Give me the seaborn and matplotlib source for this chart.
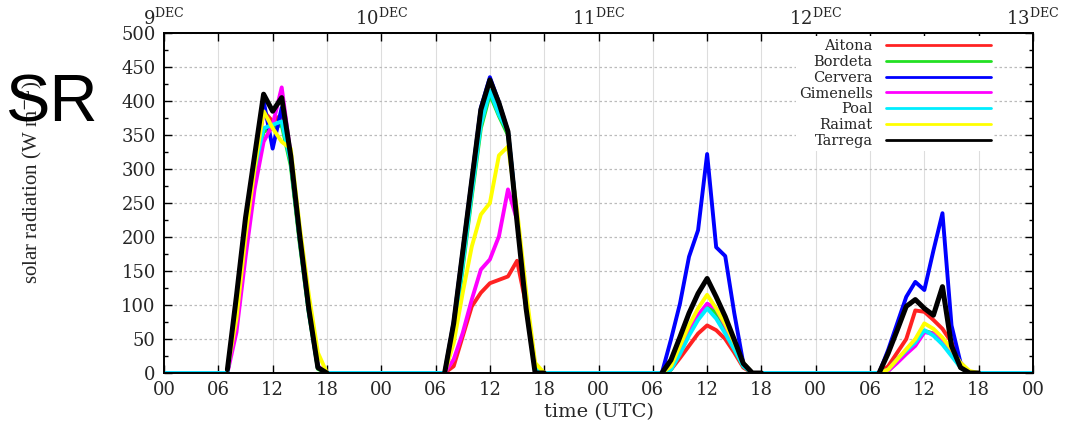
import matplotlib
matplotlib.use("Agg")
import matplotlib.pyplot as plt
import seaborn as sns
import pandas as pd

# hourly daytime values (07 .. 18 UTC) for each day, 9-12 DEC
HOURS = [7, 8, 9, 10, 11, 12, 13, 14, 15, 16, 17, 18]
DAYS = [0, 1, 2, 3]

aitona = [
    [0, 90, 210, 300, 385, 370, 380, 310, 195, 95, 8, 0],
    [0, 10, 54, 98, 118, 132, 137, 142, 165, 100, 8, 0],
    [0, 5, 22, 40, 58, 70, 63, 50, 30, 8, 0, 0],
    [0, 10, 30, 50, 92, 90, 78, 65, 45, 15, 0, 0],
]
bordeta = [
    [0, 95, 215, 300, 355, 360, 365, 305, 190, 88, 6, 0],
    [0, 50, 155, 260, 360, 410, 378, 350, 225, 105, 8, 0],
    [0, 5, 30, 60, 82, 100, 88, 62, 35, 10, 0, 0],
    [0, 3, 18, 30, 42, 62, 58, 45, 28, 8, 0, 0],
]
cervera = [
    [0, 110, 225, 315, 400, 330, 390, 320, 200, 92, 8, 0],
    [0, 75, 180, 285, 390, 435, 398, 355, 228, 105, 8, 0],
    [0, 49, 102, 171, 210, 322, 185, 172, 88, 14, 0, 0],
    [0, 34, 73, 112, 134, 122, 180, 235, 70, 15, 0, 0],
]
gimenells = [
    [0, 60, 170, 270, 340, 365, 420, 320, 200, 95, 10, 0],
    [0, 20, 59, 108, 152, 167, 201, 270, 225, 108, 10, 0],
    [0, 8, 35, 62, 85, 102, 95, 70, 40, 12, 0, 0],
    [0, 3, 15, 28, 40, 60, 58, 48, 30, 10, 0, 0],
]
poal = [
    [0, 100, 220, 300, 360, 365, 370, 310, 195, 90, 8, 0],
    [0, 55, 160, 265, 365, 415, 380, 355, 228, 105, 8, 0],
    [0, 5, 28, 55, 78, 95, 80, 58, 35, 10, 0, 0],
    [0, 5, 20, 33, 45, 63, 55, 42, 25, 8, 0, 0],
]
raimat = [
    [5, 80, 200, 300, 385, 360, 340, 330, 215, 115, 30, 0],
    [0, 44, 118, 186, 233, 250, 320, 333, 240, 120, 15, 0],
    [0, 10, 40, 70, 95, 115, 95, 72, 45, 15, 0, 0],
    [0, 5, 20, 35, 50, 73, 65, 52, 35, 15, 3, 0],
]
tarrega = [
    [5, 113, 228, 319, 410, 385, 405, 319, 201, 94, 8, 0],
    [0, 73, 178, 283, 387, 431, 397, 355, 222, 95, 0, 0],
    [0, 19, 53, 88, 117, 139, 112, 83, 49, 14, 0, 0],
    [0, 29, 63, 98, 108, 95, 85, 127, 40, 8, 0, 0],
]

stations = ["Aitona", "Bordeta", "Cervera", "Gimenells", "Poal", "Raimat", "Tarrega"]
series = [aitona, bordeta, cervera, gimenells, poal, raimat, tarrega]
colors = ["#ff2222", "#22e022", "#0000ff", "#ff00ff", "#00eeff", "#ffff00", "#000000"]
# stations that have no night-time record (line broken between days)
daytime_only = ["Raimat", "Tarrega"]

x_ticks = list(range(0, 97, 6))
x_ticklabels = ["00", "06", "12", "18"] * 4 + ["00"]
day_ticks = [0, 24, 48, 72, 96]
day_labels = [r"9$^{\rm DEC}$", r"10$^{\rm DEC}$", r"11$^{\rm DEC}$",
              r"12$^{\rm DEC}$", r"13$^{\rm DEC}$"]

rows = []
for st, vals in zip(stations, series):
    for d in DAYS:
        unit = st + str(d) if st in daytime_only else st
        for h, v in zip(HOURS, vals[d]):
            rows.append({"time": 24 * d + h, "value": v, "station": st, "seg": unit})
    if st not in daytime_only:
        rows.append({"time": 0, "value": 0, "station": st, "seg": st})
        rows.append({"time": 96, "value": 0, "station": st, "seg": st})
df = pd.DataFrame(rows)

sns.set_theme(style="ticks")
plt.rcParams["font.family"] = ["DejaVu Serif"]
plt.rcParams["mathtext.fontset"] = "dejavuserif"

fig = plt.figure(figsize=(10.7, 4.29), dpi=100)
ax = fig.add_axes([0.1533, 0.1305, 0.8121, 0.7926])

sns.lineplot(data=df, x="time", y="value", hue="station", units="seg",
             estimator=None, palette=dict(zip(stations, colors)),
             hue_order=stations, linewidth=2.8, ax=ax)
for ln in ax.lines:
    if matplotlib.colors.to_hex(ln.get_color()) == "#000000":
        ln.set_linewidth(3.6)

ax.set_xlim(0, 96)
ax.set_ylim(0, 500)
ax.set_xticks(x_ticks)
ax.set_xticklabels(x_ticklabels)
ax.set_yticks(range(0, 501, 50))
ax.set_yticks(range(25, 500, 50), minor=True)
ax.tick_params(which="both", direction="in", top=True, right=True,
               labelsize=13, color="black")
ax.tick_params(which="major", length=6, width=1, pad=6)
ax.tick_params(which="minor", length=3, width=1)
ax.grid(axis="x", color="#dddddd", lw=0.8, ls="-")
ax.grid(axis="y", color="#bbbbbb", lw=0.9, ls=(0, (2, 2)))
ax.set_axisbelow(True)
for sp in ax.spines.values():
    sp.set_linewidth(1.4)
    sp.set_color("black")

ax.set_xlabel("time (UTC)", fontsize=14, labelpad=3)
ax.set_ylabel(r"solar radiation (W m$^{-2}$)", fontsize=15,
              family="Liberation Serif")
ax.yaxis.set_label_coords(-0.137, 0.56)

top = ax.secondary_xaxis("top")
top.set_xticks(day_ticks)
top.set_xticklabels(day_labels)
top.tick_params(length=0, labelsize=13, pad=3)

handles, labels = ax.get_legend_handles_labels()
leg = ax.legend(handles, labels, loc="upper right", bbox_to_anchor=(0.955, 0.99),
                markerfirst=False, frameon=True, fancybox=False, fontsize=10.5,
                labelspacing=0.12, handlelength=7.2, handletextpad=0.9,
                borderpad=0.2, borderaxespad=0)
leg.get_frame().set_edgecolor("none")
leg.get_frame().set_facecolor("white")
leg.get_frame().set_alpha(1)
for h in leg.legend_handles:
    h.set_linewidth(2)
for t in leg.get_texts():
    t.set_ha("right")

fig.text(5 / 1070, 1 - 122 / 429, "SR", fontsize=48, family="Liberation Sans",
         color="black", va="baseline", ha="left")

fig.savefig("out.png", dpi=100, facecolor="white")
